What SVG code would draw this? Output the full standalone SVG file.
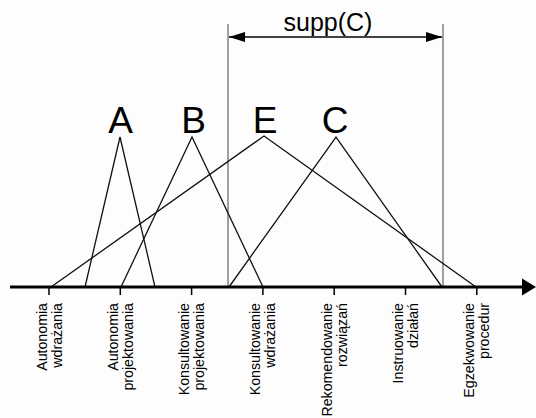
<svg xmlns="http://www.w3.org/2000/svg" width="536" height="418" viewBox="0 0 536 418">
<style>
.bg{fill:#fdfdfd}
.mf{fill:none;stroke:#111;stroke-width:1.3;stroke-linejoin:miter}
.big{font-family:"Liberation Sans",Arial,sans-serif;font-size:37px;fill:#000;text-anchor:middle}
.lbl{font-family:"Liberation Sans",Arial,sans-serif;font-size:14.2px;fill:#000;text-anchor:end}
.supp{font-family:"Liberation Sans",Arial,sans-serif;font-size:25px;fill:#000;text-anchor:middle}
.tick{stroke:#000;stroke-width:1.5}
.vline{stroke:#444;stroke-width:1}
</style>
<defs>
<marker id="ah" viewBox="0 0 16 10" refX="16" refY="5" markerWidth="16" markerHeight="10" markerUnits="userSpaceOnUse" orient="auto-start-reverse">
<path d="M0,0 L16,5 L0,10 Z" fill="#000"/>
</marker>
</defs>
<rect class="bg" x="0" y="0" width="536" height="418"/>

<g id="supp">
<line class="vline" x1="228" y1="24" x2="228" y2="287"/>
<line class="vline" x1="443" y1="24" x2="443" y2="287"/>
<line x1="229" y1="37" x2="442" y2="37" stroke="#000" stroke-width="1.5" marker-start="url(#ah)" marker-end="url(#ah)"/>
<text class="supp" x="328" y="31">supp(C)</text>
</g>

<g id="connectors">
<g id="fuzzyA"><polyline class="mf" points="85,287 120,137 155,287"/></g>
<g id="fuzzyB"><polyline class="mf" points="121,287 192,137 263,287"/></g>
<g id="fuzzyE"><polyline class="mf" points="51,287 264,136 476,287"/></g>
<g id="fuzzyC"><polyline class="mf" points="229,287 336,137 442,287"/></g>
</g>

<g id="nodeA"><text class="big" x="120.5" y="133">A</text></g>
<g id="nodeB"><text class="big" x="193.5" y="133">B</text></g>
<g id="nodeE"><text class="big" x="265" y="133">E</text></g>
<g id="nodeC"><text class="big" x="335" y="133">C</text></g>

<g id="axis">
<line x1="10" y1="287" x2="526" y2="287" stroke="#000" stroke-width="3"/>
<polygon points="522,278.5 536,287 522,295.5" fill="#000"/>
<line class="tick" x1="49" y1="287" x2="49" y2="295"/>
<line class="tick" x1="120.3" y1="287" x2="120.3" y2="295"/>
<line class="tick" x1="191.6" y1="287" x2="191.6" y2="295"/>
<line class="tick" x1="262.9" y1="287" x2="262.9" y2="295"/>
<line class="tick" x1="334.2" y1="287" x2="334.2" y2="295"/>
<line class="tick" x1="405.5" y1="287" x2="405.5" y2="295"/>
<line class="tick" x1="476.8" y1="287" x2="476.8" y2="295"/>
</g>

<g id="label1"><text class="lbl" transform="translate(46.5,303) rotate(-90)"><tspan x="0">Autonomia</tspan><tspan x="0" dy="15">wdrażania</tspan></text></g>
<g id="label2"><text class="lbl" transform="translate(117.8,303) rotate(-90)"><tspan x="0">Autonomia</tspan><tspan x="0" dy="15">projektowania</tspan></text></g>
<g id="label3"><text class="lbl" transform="translate(189.1,303) rotate(-90)"><tspan x="0">Konsultowanie</tspan><tspan x="0" dy="15">projektowania</tspan></text></g>
<g id="label4"><text class="lbl" transform="translate(260.4,303) rotate(-90)"><tspan x="0">Konsultowanie</tspan><tspan x="0" dy="15">wdrażania</tspan></text></g>
<g id="label5"><text class="lbl" transform="translate(331.7,303) rotate(-90)"><tspan x="0">Rekomendowanie</tspan><tspan x="0" dy="15">rozwiązań</tspan></text></g>
<g id="label6"><text class="lbl" transform="translate(403,303) rotate(-90)"><tspan x="0">Instruowanie</tspan><tspan x="0" dy="15">działań</tspan></text></g>
<g id="label7"><text class="lbl" transform="translate(474.3,303) rotate(-90)"><tspan x="0">Egzekwowanie</tspan><tspan x="0" dy="15">procedur</tspan></text></g>
</svg>
